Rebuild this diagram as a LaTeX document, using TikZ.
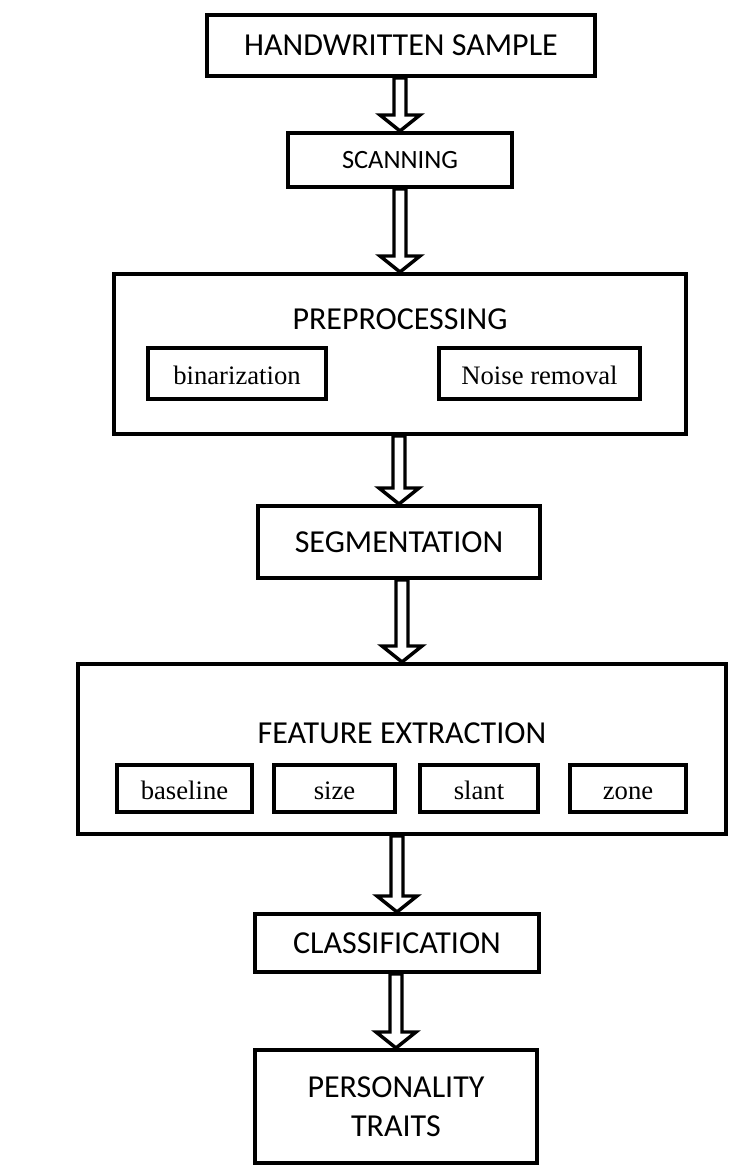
\documentclass[tikz,border=0pt]{standalone}
\usepackage{fontspec}
\setmainfont{Carlito}
\newfontfamily\tnr{Liberation Serif}
\usetikzlibrary{calc}
\tikzset{
  box/.style={draw=black, line width=3pt, fill=white, inner sep=0pt, font=\fontsize{24}{28}\selectfont},
  subbox/.style={draw=black, line width=3pt, fill=white, inner sep=0pt, text height=16.5pt, text depth=0pt, font=\tnr\fontsize{20}{24}\selectfont},
  title/.style={inner sep=0pt, font=\fontsize{24}{28}\selectfont},
  harrow/.style={draw=black, fill=white, line width=2.6pt, line join=miter}
}
\newcommand{\hollowarrow}[2]{%
  \path[harrow] let \p1=(#1.south), \p2=(#2.north) in
    (\x2-4.5pt,\y1) -- (\x2-4.5pt,\y2+12pt) -- (\x2-15pt,\y2+12pt) -- (\x2,\y2)
    -- (\x2+15pt,\y2+12pt) -- (\x2+4.5pt,\y2+12pt) -- (\x2+4.5pt,\y1) -- cycle;}
\begin{document}
\begin{tikzpicture}[x=0.75pt,y=-0.75pt]
\useasboundingbox[fill=white] (0,0) rectangle (744,1170);
\node[box, minimum width=291pt, minimum height=45.75pt] (hs) at (401,45.5) {HANDWRITTEN SAMPLE};
\node[box, minimum width=168pt, minimum height=40.5pt, font=\fontsize{19.8}{22}\selectfont] (scan) at (400,160) {SCANNING};
\node[box, minimum width=429pt, minimum height=120pt] (pre) at (400,354) {};
\node[title] (pret) at (400,319) {PREPROCESSING};
\node[subbox, minimum width=133.5pt, minimum height=38.25pt] (bin) at (237,373.5) {binarization};
\node[subbox, minimum width=150.75pt, minimum height=38.25pt] (noise) at (539.5,373.5) {Noise removal};
\node[box, minimum width=211.5pt, minimum height=54pt] (seg) at (399,542) {SEGMENTATION};
\node[box, minimum width=486pt, minimum height=127.5pt] (fe) at (402,749) {};
\node[title] (fet) at (402,733) {FEATURE EXTRACTION};
\node[subbox, minimum width=101.25pt, minimum height=35.25pt] (base) at (184.5,788.5) {baseline};
\node[subbox, minimum width=90.75pt, minimum height=35.25pt] (size) at (334.5,788.5) {size};
\node[subbox, minimum width=88.5pt, minimum height=35.25pt] (slant) at (479,788.5) {slant};
\node[subbox, minimum width=87pt, minimum height=35.25pt] (zone) at (628,788.5) {zone};
\node[box, minimum width=213pt, minimum height=43.5pt] (cls) at (397,943) {CLASSIFICATION};
\node[box, minimum width=211.5pt, minimum height=84.75pt, align=center, font=\fontsize{24}{29.5}\selectfont] (pt) at (396,1106.5) {PERSONALITY\\TRAITS};
\hollowarrow{hs}{scan}
\hollowarrow{scan}{pre}
\hollowarrow{pre}{seg}
\hollowarrow{seg}{fe}
\hollowarrow{fe}{cls}
\hollowarrow{cls}{pt}
\end{tikzpicture}
\end{document}
